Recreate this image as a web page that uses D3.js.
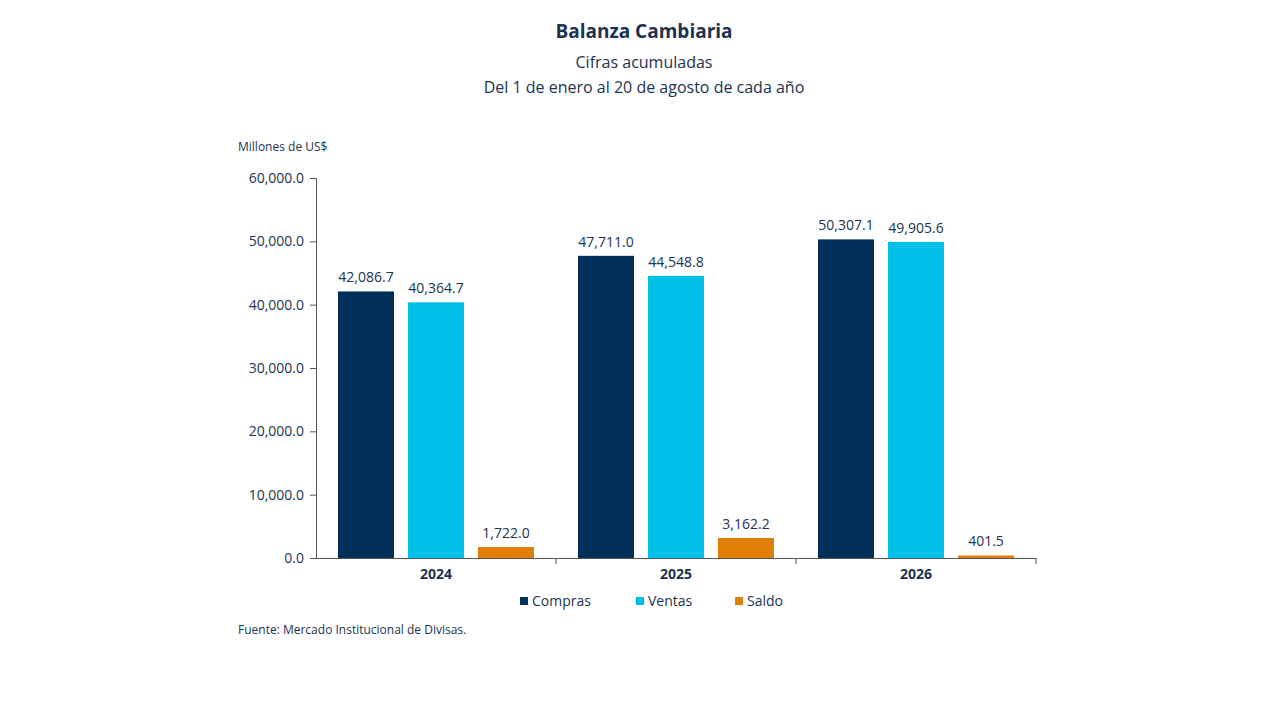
<!DOCTYPE html>
<html><head><meta charset="utf-8">
<script src="https://cdn.jsdelivr.net/npm/d3@7"></script>
<style>body{margin:0;background:#fff}text{font-family:"Open Sans",sans-serif;fill:#1b3350}</style>
</head><body><svg width="1280" height="720"></svg>
<script>
const years = ["2024", "2025", "2026"];
const series = ["Compras", "Ventas", "Saldo"];
const compras = [42086.7, 47711.0, 50307.1];
const ventas = [40364.7, 44548.8, 49905.6];
const saldo = [1722.0, 3162.2, 401.5];
const yTicks = [0, 10000, 20000, 30000, 40000, 50000, 60000];
const colors = ["#002f5a", "#00c0ea", "#e07e06"];

const svg = d3.select("svg");
const x = d3.scaleBand().domain(years).range([316, 1036]);
const xi = d3.scaleBand().domain(series).range([22, 218]).paddingInner(0.2);
const y = d3.scaleLinear().domain([0, 60000]).range([558, 178]);
const fmt = d3.format(",.1f");

svg.append("text").attr("x", 644).attr("y", 38).attr("text-anchor", "middle")
  .style("font-size", "19px").style("font-weight", "bold").text("Balanza Cambiaria");
svg.append("text").attr("x", 644).attr("y", 68).attr("text-anchor", "middle")
  .style("font-size", "16px").text("Cifras acumuladas");
svg.append("text").attr("x", 644).attr("y", 93).attr("text-anchor", "middle")
  .style("font-size", "16px").text("Del 1 de enero al 20 de agosto de cada año");
svg.append("text").attr("x", 238).attr("y", 151).style("font-size", "12px").text("Millones de US$");

const yAxis = svg.append("g").attr("transform", "translate(316,0)")
  .call(d3.axisLeft(y).tickValues(yTicks).tickFormat(fmt).tickSize(6).tickPadding(6));
yAxis.selectAll("text").style("font-size", "14px");
yAxis.selectAll("line,path").attr("stroke", "#555");

const xAxis = svg.append("g").attr("transform", "translate(0,558)")
  .call(d3.axisBottom(x).tickSize(0).tickPadding(11));
xAxis.selectAll("text").style("font-size", "14px").style("font-weight", "bold");
xAxis.select("path").attr("stroke", "#555");
xAxis.selectAll(".bound").data([556, 796, 1036]).enter().append("line")
  .attr("x1", d => d).attr("x2", d => d).attr("y1", 0).attr("y2", 6).attr("stroke", "#555");

const vals = [compras, ventas, saldo];
years.forEach((yr, i) => {
  series.forEach((s, j) => {
    const v = vals[j][i];
    const bx = x(yr) + xi(s);
    svg.append("rect").attr("x", bx).attr("y", y(v)).attr("width", xi.bandwidth())
      .attr("height", 558 - y(v)).attr("fill", colors[j]);
    svg.append("text").attr("x", bx + xi.bandwidth() / 2).attr("y", y(v) - 9)
      .attr("text-anchor", "middle").style("font-size", "14px").text(fmt(v));
  });
});

const lx = [520, 636, 735];
series.forEach((s, j) => {
  svg.append("rect").attr("x", lx[j]).attr("y", 597).attr("width", 8).attr("height", 8).attr("fill", colors[j]);
  svg.append("text").attr("x", lx[j] + 12).attr("y", 606).style("font-size", "14px").text(s);
});
svg.append("text").attr("x", 238).attr("y", 634).style("font-size", "12px").text("Fuente: Mercado Institucional de Divisas.");
</script></body></html>
